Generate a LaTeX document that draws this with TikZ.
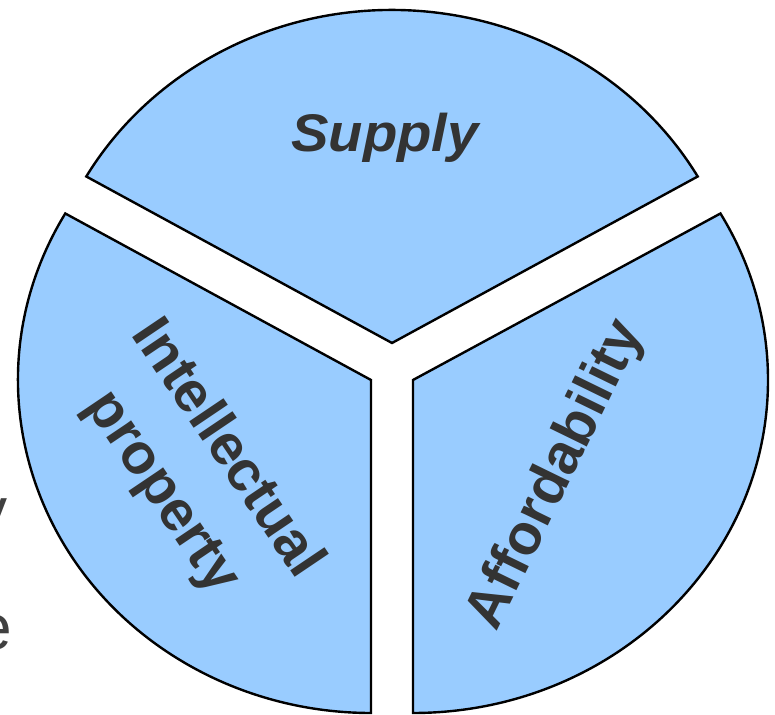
\documentclass[tikz,border=0pt]{standalone}
\usepackage{fontspec}
\newfontfamily\lsans{Liberation Sans}
\definecolor{sectorfill}{HTML}{99CCFF}
\definecolor{textgrey}{HTML}{333333}
\definecolor{fraggrey}{HTML}{404040}
\begin{document}
\begin{tikzpicture}[x=1pt,y=1pt,
  sector/.style={draw=black,line width=2.4pt,fill=sectorfill,line join=miter},
  label/.style={text=textgrey,inner sep=0pt,font={\lsans\bfseries\fontsize{57}{78}\selectfont},align=center},
  frag/.style={text=fraggrey,inner sep=0pt,font={\lsans\fontsize{64}{70}\selectfont}}]
\useasboundingbox (0,0) rectangle (775,714);
% apex points of the three exploded sectors
\coordinate (supapex) at (392,371);
\coordinate (ipapex) at (371,334);
\coordinate (affapex) at (413,334);
% sectors
\draw[sector] (supapex) -- ++(30:353 and 333) arc[start angle=30,end angle=150,x radius=353,y radius=333] -- cycle;
\draw[sector] (ipapex) -- ++(150:353 and 333) arc[start angle=150,end angle=270,x radius=353,y radius=333] -- cycle;
\draw[sector] (affapex) -- ++(-90:355 and 333) arc[start angle=-90,end angle=30,x radius=355,y radius=333] -- cycle;
% labels
\node[label,font={\lsans\bfseries\itshape\fontsize{53}{60}\selectfont},anchor=base,xscale=1.06] (supply) at (385,562) {Supply};
\node[label,rotate=-56] (ip) at (194,243) {Intellectual\\property};
\node[label,rotate=64] (aff) at (557,239) {Affordability};
% cut-off text fragments at the left edge
\begin{scope}
\clip (0,0) rectangle (775,714);
\node[frag,anchor=base east] (fragy) at (8,181) {y};
\node[frag,anchor=base east] (frage) at (12,64) {e};
\end{scope}
\end{tikzpicture}
\end{document}
